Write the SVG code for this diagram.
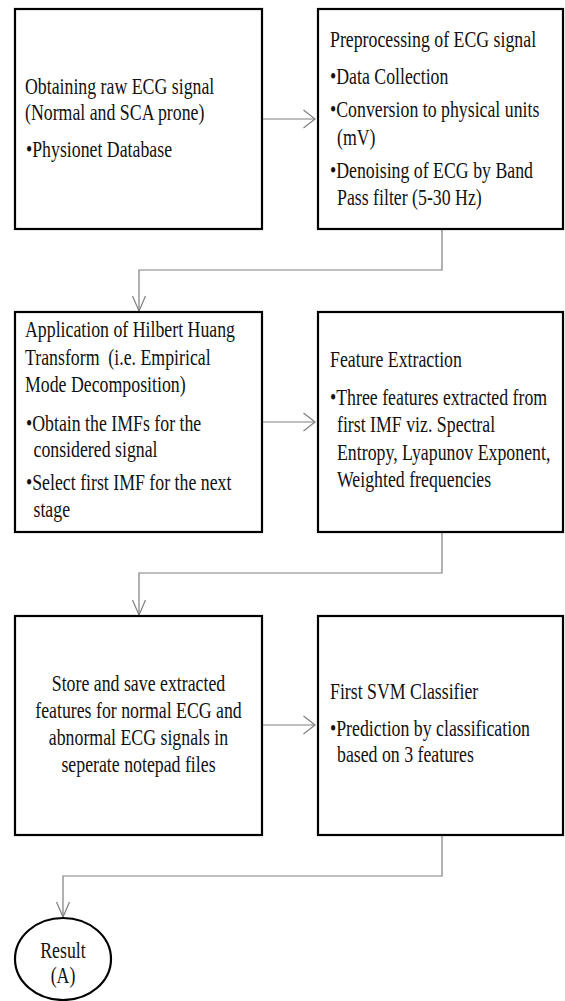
<svg xmlns="http://www.w3.org/2000/svg" width="565" height="1001" viewBox="0 0 565 1001">
<style>
.box{fill:#fff;stroke:#000;stroke-width:2.2}
.conn{fill:none;stroke:#7f7f7f;stroke-width:1.2}
.t{font-family:"Liberation Serif","Times New Roman",serif;font-size:17.8px;fill:#111}
.c{text-anchor:middle}
</style>
<defs>
<marker id="arrR" markerUnits="userSpaceOnUse" markerWidth="20" markerHeight="24" refX="11.5" refY="10" orient="auto" viewBox="-1 0 20 20" overflow="visible">
<path d="M0,1 L11.5,10 L0,19" fill="none" stroke="#7f7f7f" stroke-width="1.2"/>
</marker>
<marker id="arrD" markerUnits="userSpaceOnUse" markerWidth="20" markerHeight="20" refX="15" refY="10" orient="auto" viewBox="-1 0 20 20" overflow="visible">
<path d="M0,3.5 L15,10 L0,16.5" fill="none" stroke="#7f7f7f" stroke-width="1.2"/>
</marker>
</defs>
<g id="connectors">
<path class="conn" d="M262,119 H315" marker-end="url(#arrR)"/>
<path class="conn" d="M442,229 V270 H139 V311" marker-end="url(#arrD)"/>
<path class="conn" d="M262,422 H315" marker-end="url(#arrR)"/>
<path class="conn" d="M442,532 V573 H139 V615" marker-end="url(#arrD)"/>
<path class="conn" d="M262,725 H315" marker-end="url(#arrR)"/>
<path class="conn" d="M442,835 V876 H63 V917" marker-end="url(#arrD)"/>
</g>
<g id="node1">
<rect class="box" x="15" y="9" width="247" height="220"/>
<g transform="scale(1,1.33)" class="t">
<text x="25" y="70.68">Obtaining raw ECG signal</text>
<text x="25" y="90.23">(Normal and SCA prone)</text>
<text x="26" y="118.05">•Physionet Database</text>
</g>
</g>
<g id="node2">
<rect class="box" x="318" y="9" width="245" height="220"/>
<g transform="scale(1,1.33)" class="t">
<text x="330" y="35.34">Preprocessing of ECG signal</text>
<text x="330" y="63.16">•Data Collection</text>
<text x="330" y="87.97">•Conversion to physical units</text>
<text x="337" y="109.02">(mV)</text>
<text x="330" y="133.83">•Denoising of ECG by Band</text>
<text x="337" y="154.14">Pass filter (5-30 Hz)</text>
</g>
</g>
<g id="node3">
<rect class="box" x="15" y="312" width="247" height="220"/>
<g transform="scale(1,1.33)" class="t">
<text x="25" y="253.38">Application of Hilbert Huang</text>
<text x="25" y="274.44" xml:space="preserve">Transform  (i.e. Empirical</text>
<text x="25" y="294.74">Mode Decomposition)</text>
<text x="26" y="324.06">•Obtain the IMFs for the</text>
<text x="33.5" y="343.61">considered signal</text>
<text x="26" y="368.42">•Select first IMF for the next</text>
<text x="33.5" y="388.72">stage</text>
</g>
</g>
<g id="node4">
<rect class="box" x="318" y="312" width="245" height="220"/>
<g transform="scale(1,1.33)" class="t">
<text x="330" y="275.94">Feature Extraction</text>
<text x="330" y="304.51">•Three features extracted from</text>
<text x="337" y="324.81">first IMF viz. Spectral</text>
<text x="337" y="345.86">Entropy, Lyapunov Exponent,</text>
<text x="337" y="366.17">Weighted frequencies</text>
</g>
</g>
<g id="node5">
<rect class="box" x="15" y="616" width="247" height="219"/>
<g transform="scale(1,1.33)" class="t c">
<text x="138.5" y="519.55">Store and save extracted</text>
<text x="138.5" y="539.85">features for normal ECG and</text>
<text x="138.5" y="560.15">abnormal ECG signals in</text>
<text x="138.5" y="580.45">seperate notepad files</text>
</g>
</g>
<g id="node6">
<rect class="box" x="318" y="616" width="245" height="219"/>
<g transform="scale(1,1.33)" class="t">
<text x="330" y="525.56">First SVM Classifier</text>
<text x="330" y="553.38">•Prediction by classification</text>
<text x="337" y="572.93">based on 3 features</text>
</g>
</g>
<g id="result">
<ellipse class="box" cx="63" cy="959" rx="48" ry="41"/>
<g transform="scale(1,1.33)" class="t c">
<text x="63" y="720.30">Result</text>
<text x="63" y="739.10">(A)</text>
</g>
</g>
</svg>
